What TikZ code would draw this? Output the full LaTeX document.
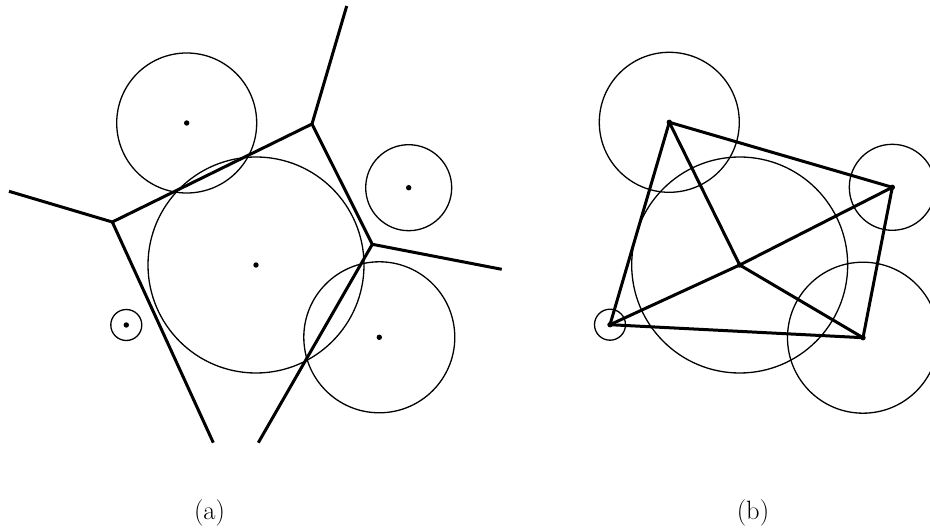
\documentclass[tikz,border=0pt]{standalone}
\usepackage{fontspec}
\usepackage{tikz}
\begin{document}
\begin{tikzpicture}[x=1pt,y=-1pt,
  site/.style={line width=1.3pt},
  cell/.style={line width=3pt},
  subcap/.style={font=\fontsize{26.5}{32}\selectfont}]
\useasboundingbox (0,0) rectangle (930,529);
% (a) power diagram
\foreach \n/\x/\y/\r in {1/186.7/123/70, 2/256/265/108, 3/408.7/187.7/43, 4/379.3/337.3/75.5, 5/126.3/325/15.5} {
  \coordinate (a\n) at (\x,\y);
  \draw[site] (a\n) circle[radius=\r pt];
  \fill (a\n) circle[radius=2.7pt];
}
\coordinate (v1) at (112.3,222);
\coordinate (v2) at (312,124);
\coordinate (v3) at (372.3,244.3);
\coordinate (eT) at (346.7,6);
\coordinate (eL) at (9,191.3);
\coordinate (eR) at (501.7,269.3);
\coordinate (eBL) at (213.3,442.7);
\coordinate (eBR) at (258.3,442.7);
\draw[cell] (eL) -- (v1) -- (v2) -- (eT);
\draw[cell] (v2) -- (v3) -- (eR);
\draw[cell] (v1) -- (eBL);
\draw[cell] (v3) -- (eBR);
\node[subcap] (capa) at (209.5,512.5) {(a)};
% (b) regular triangulation
\foreach \n/\x/\y/\r in {1/669.3/122.3/70, 2/739.7/265/108, 3/892.3/187.3/43, 4/863/337.7/75.5, 5/610/324.7/15.5} {
  \coordinate (b\n) at (\x,\y);
  \draw[site] (b\n) circle[radius=\r pt];
  \fill (b\n) circle[radius=2.7pt];
}
\draw[cell,line join=round] (b1) -- (b3) -- (b4) -- (b5) -- cycle;
\draw[cell] (b1) -- (b2) -- (b4);
\draw[cell] (b5) -- (b2) -- (b3);
\node[subcap] (capb) at (753,512.5) {(b)};
\end{tikzpicture}
\end{document}
